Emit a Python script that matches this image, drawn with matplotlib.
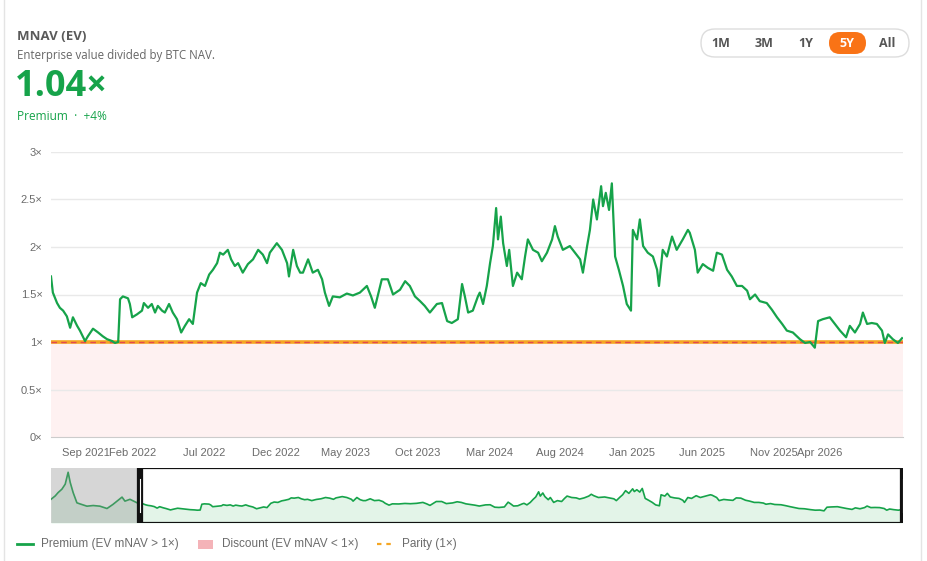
import matplotlib
matplotlib.use("Agg")
import matplotlib.pyplot as plt
from matplotlib.patches import FancyBboxPatch, Rectangle
from matplotlib.lines import Line2D

# ---------------- data ----------------
# days since start of the 5Y window
days_5y = [0, 4, 13, 19, 26, 34, 41, 47, 56, 62, 73, 79, 90, 101, 111, 120, 131, 137, 144,
           148, 154, 165, 169, 174, 184, 195, 199, 208, 216, 223, 229, 238, 244, 253, 261,
           270, 279, 287, 296, 304, 313, 321, 330, 339, 347, 356, 362, 369, 379, 386, 394,
           401, 411, 422, 433, 444, 454, 463, 469, 484, 495, 506, 510, 519, 527, 534, 540,
           551, 561, 572, 581, 587, 596, 604, 619, 634, 647, 662, 677, 686, 694, 709, 722,
           733, 748, 759, 769, 780, 791, 801, 812, 827, 838, 849, 859, 872, 881, 887, 894,
           904, 915, 919, 926, 934, 941, 947, 954, 958, 964, 969, 977, 982, 990, 999, 1009,
           1016, 1022, 1033, 1044, 1052, 1063, 1074, 1080, 1086, 1097, 1112, 1123, 1134,
           1140, 1149, 1155, 1162, 1170, 1179, 1183, 1189, 1196, 1202, 1209, 1217, 1226,
           1234, 1243, 1247, 1256, 1262, 1269, 1279, 1290, 1299, 1303, 1311, 1320, 1331,
           1341, 1354, 1365, 1369, 1380, 1386, 1397, 1408, 1419, 1427, 1438, 1449, 1459,
           1470, 1481, 1492, 1498, 1509, 1519, 1534, 1545, 1556, 1567, 1577, 1590, 1605,
           1616, 1627, 1637, 1644, 1654, 1669, 1680, 1691, 1704, 1712, 1723, 1734, 1740,
           1749, 1759, 1770, 1781, 1787, 1794, 1804, 1815, 1824]
mnav_5y = [1.69, 1.52, 1.41, 1.36, 1.33, 1.27, 1.15, 1.26, 1.17, 1.12, 1.01, 1.06, 1.14, 1.10,
           1.06, 1.03, 1.01, 0.99, 1.00, 1.45, 1.48, 1.46, 1.40, 1.26, 1.29, 1.33, 1.41, 1.36,
           1.40, 1.31, 1.38, 1.33, 1.31, 1.40, 1.31, 1.24, 1.10, 1.17, 1.24, 1.19, 1.52, 1.62,
           1.59, 1.71, 1.76, 1.83, 1.94, 1.92, 1.97, 1.87, 1.80, 1.83, 1.73, 1.82, 1.87, 1.97,
           1.92, 1.83, 1.94, 2.04, 1.97, 1.83, 1.69, 1.97, 1.80, 1.73, 1.73, 1.87, 1.73, 1.76,
           1.66, 1.52, 1.38, 1.48, 1.47, 1.51, 1.49, 1.52, 1.59, 1.48, 1.36, 1.66, 1.66, 1.50,
           1.55, 1.64, 1.59, 1.48, 1.43, 1.38, 1.31, 1.40, 1.41, 1.22, 1.20, 1.24, 1.61, 1.48,
           1.31, 1.33, 1.48, 1.52, 1.40, 1.59, 1.83, 2.01, 2.41, 2.08, 2.32, 2.04, 1.80, 1.97,
           1.59, 1.73, 1.66, 1.90, 2.08, 1.97, 1.94, 1.85, 1.94, 2.08, 2.22, 2.11, 1.97, 2.01,
           1.94, 1.87, 1.73, 2.01, 2.18, 2.50, 2.29, 2.64, 2.43, 2.57, 2.39, 2.67, 1.90, 1.76,
           1.59, 1.40, 1.33, 2.18, 2.08, 2.29, 2.01, 1.94, 1.90, 1.76, 1.59, 1.97, 1.90, 2.11,
           1.97, 2.08, 2.18, 2.15, 1.97, 1.73, 1.82, 1.78, 1.75, 1.94, 1.92, 1.76, 1.69, 1.59,
           1.59, 1.54, 1.45, 1.50, 1.43, 1.41, 1.34, 1.26, 1.19, 1.12, 1.10, 1.03, 0.99, 1.00,
           0.94, 1.22, 1.24, 1.26, 1.19, 1.12, 1.05, 1.17, 1.10, 1.19, 1.31, 1.19, 1.20, 1.19,
           1.12, 0.99, 1.08, 1.03, 0.99, 1.04]

# earlier history shown only in the navigator (days before the 5Y window)
days_pre = [-213, -203, -196, -187, -179, -172, -167, -160, -151, -144, -127, -112, -96,
            -79, -65, -43, -36, -24, -7]
mnav_pre = [1.83, 2.09, 2.35, 2.61, 3.00, 3.92, 3.13, 2.35, 1.56, 1.48, 1.30, 1.35, 1.30,
            1.12, 1.43, 2.00, 1.69, 1.83, 1.56]

tick_days = [75, 176, 328, 482, 632, 786, 939, 1091, 1245, 1395, 1549, 1648]
tick_labels = ["Sep 2021", "Feb 2022", "Jul 2022", "Dec 2022", "May 2023", "Oct 2023",
               "Mar 2024", "Aug 2024", "Jan 2025", "Jun 2025", "Nov 2025", "Apr 2026"]
y_ticks = [0, 0.5, 1, 1.5, 2, 2.5, 3]
y_labels = ["0×", "0.5×", "1×", "1.5×", "2×", "2.5×", "3×"]
range_buttons = ["1M", "3M", "1Y", "5Y", "All"]
current_value = "1.04×"
parity = 1.0

# ---------------- style ----------------
GREEN = "#16a34a"
PINK = "#fef1f1"
RED = "#e5484d"
ORANGE = "#f5a623"
BTN_ORANGE = "#f97316"
GRAY_TXT = "#6b6b6b"
AX_FONT = ["Liberation Sans", "DejaVu Sans"]
HD_FONT = ["Open Sans", "DejaVu Sans"]

W, H = 928, 561
fig = plt.figure(figsize=(W / 100, H / 100), dpi=100)
fig.patch.set_facecolor("white")

def fx(x):
    return x / W

def fy(y):
    return 1 - y / H

# overlay in pixel coordinates for UI chrome
ui = fig.add_axes([0, 0, 1, 1], zorder=0)
ui.set_xlim(0, W)
ui.set_ylim(H, 0)
ui.axis("off")
ui.axvline(4, color="#e4e4e4", lw=1)
ui.axvline(921, color="#e4e4e4", lw=1)

# header
fig.text(fx(17), fy(36), "MNAV (EV)", fontsize=9.5, fontweight="bold", color="#5a5a5a",
         family=HD_FONT, va="center", ha="left")
fig.text(fx(17), fy(55), "Enterprise value divided by BTC NAV.", fontsize=8.3, color="#666666",
         family=HD_FONT, va="center", ha="left")
fig.text(fx(15), fy(87), current_value, fontsize=26, fontweight="bold", color=GREEN,
         family=HD_FONT, va="center", ha="left")
fig.text(fx(17), fy(116), "Premium  ·  +4%", fontsize=8.6, color=GREEN,
         family=HD_FONT, va="center", ha="left")

# range buttons
ui.add_patch(FancyBboxPatch((701, 29), 208, 28, boxstyle="round,pad=0,rounding_size=14",
                            fc="white", ec="#dddddd", lw=1))
ui.add_patch(FancyBboxPatch((829, 32), 37, 22, boxstyle="round,pad=0,rounding_size=11",
                            fc=BTN_ORANGE, ec="none"))
for lab, bx in zip(range_buttons, [721, 764, 806, 847, 887]):
    ui.text(bx, 43, lab, fontsize=9, fontweight="bold", ha="center", va="center",
            color="white" if lab == "5Y" else "#555555", family=HD_FONT)

# ---------------- main chart ----------------
x0, x1 = 51, 903
ax = fig.add_axes([fx(x0), fy(437), (x1 - x0) / W, (437 - 152) / H], zorder=2)
ax.set_facecolor("none")
ax.set_xlim(0, 1826)
ax.set_ylim(0, 3)
ax.axhspan(0, parity, color=PINK, zorder=0, lw=0)
for yt in y_ticks[1:]:
    ax.axhline(yt, color="#e9e9e9", lw=1, zorder=1)
ax.axhline(parity, color=ORANGE, lw=2.6, zorder=2)
ax.axhline(parity, color=RED, lw=1, ls=(0, (4, 3)), zorder=3)
ax.plot(days_5y, mnav_5y, color=GREEN, lw=1.6, zorder=4, solid_joinstyle="round")
for s in ["top", "right", "left"]:
    ax.spines[s].set_visible(False)
ax.spines["bottom"].set_color("#cccccc")
ax.set_yticks(y_ticks)
ax.set_yticklabels(y_labels)
ax.set_xticks(tick_days)
ax.set_xticklabels(tick_labels)
ax.tick_params(axis="both", length=0, labelsize=8, labelcolor=GRAY_TXT)
ax.tick_params(axis="x", pad=8)
ax.tick_params(axis="y", pad=6)
for t in ax.get_xticklabels() + ax.get_yticklabels():
    t.set_family(AX_FONT)

# ---------------- navigator ----------------
nav = fig.add_axes([fx(x0), fy(523), (x1 - x0) / W, (523 - 468) / H], zorder=2)
nav.set_facecolor("white")
nx0, nx1 = -213, 1826
nav.set_xlim(nx0, nx1)
nav.set_ylim(0, 4.25)
all_days = days_pre + days_5y
all_vals = mnav_pre + mnav_5y
nav.fill_between(all_days, all_vals, 0, color="#e3f4e8", lw=0, zorder=1)
nav.plot(all_days, all_vals, color=GREEN, lw=1.2, zorder=2)
nav.axvspan(nx0, 0, color="#8a8a8a", alpha=0.35, lw=0, zorder=3)
frac = (0 - nx0) / (nx1 - nx0)
nav.axhline(4.25, xmin=frac, xmax=1, color="#111111", lw=1.6, zorder=4)
nav.axhline(0, xmin=frac, xmax=1, color="#111111", lw=1.6, zorder=4)
for hx in [0, nx1]:
    nav.axvline(hx, color="#111111", lw=4.5, zorder=5)
    nav.axvline(hx, ymin=0.2, ymax=0.8, color="white", lw=0.8, zorder=6)
nav.set_xticks([])
nav.set_yticks([])
for s in nav.spines.values():
    s.set_visible(False)

# ---------------- legend ----------------
ly = 544
ui.add_line(Line2D([17, 33], [ly, ly], color=GREEN, lw=2))
ui.text(41, ly, "Premium (EV mNAV > 1×)", fontsize=8.5, color=GRAY_TXT, va="center",
        ha="left", family=AX_FONT)
ui.add_patch(Rectangle((198, ly - 4.5), 15, 9, fc="#f4b3b8", ec="none"))
ui.text(222, ly, "Discount (EV mNAV < 1×)", fontsize=8.5, color=GRAY_TXT, va="center",
        ha="left", family=AX_FONT)
ui.add_line(Line2D([377, 393], [ly, ly], color=ORANGE, lw=1.6, ls=(0, (2, 2.2))))
ui.text(402, ly, "Parity (1×)", fontsize=8.5, color=GRAY_TXT, va="center", ha="left",
        family=AX_FONT)

fig.savefig("out.png", dpi=100, facecolor="white")
